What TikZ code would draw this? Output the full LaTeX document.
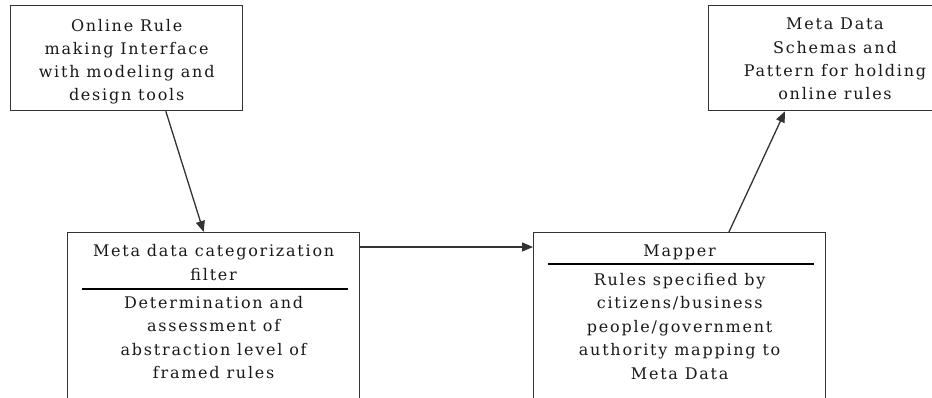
\documentclass[tikz,border=0pt]{standalone}
\usepackage{fontspec}
\setmainfont{DejaVu Serif}[LetterSpace=11]
\usetikzlibrary{calc,arrows.meta}

\tikzset{
  box/.style={draw=black!80, line width=1.3pt, fill=white, anchor=north west, inner sep=0pt},
  txt/.style={anchor=base, inner sep=0pt, font=\fontsize{16}{23}\selectfont, text=black!90},
  divider/.style={draw=black, line width=1.8pt},
  flow/.style={draw=black!80, line width=1.3pt, -{Triangle[length=11pt,width=9pt]}}
}

\begin{document}
\begin{tikzpicture}[x=1pt, y=-1pt]
  \clip (0,0) rectangle (932,398);
  \fill[white] (0,0) rectangle (932,398);

  % boxes (the lower two and the right one run past the page edge)
  \node[box, minimum width=232, minimum height=105] (b1) at (10,5) {};
  \node[box, minimum width=300, minimum height=105] (b2) at (708,5) {};
  \node[box, minimum width=292, minimum height=200] (b3) at (67,232) {};
  \node[box, minimum width=292, minimum height=200] (b4) at (533,232) {};

  % box texts, one baseline per line
  \foreach \t [count=\i] in {Online Rule, making Interface, with modeling and, design tools}
    \node[txt] (t1-\i) at ($(b1.north)+(0,27+22.7*\i-22.7)$) {\t};
  \foreach \t [count=\i] in {Meta Data, Schemas and, Pattern for holding, online rules}
    \node[txt] (t2-\i) at (835,{30+23.3*\i-23.3}) {\t};
  \foreach \t [count=\i] in {Meta data categorization, filter}
    \node[txt] (t3a-\i) at ($(b3.north)+(0,25+23*\i-23)$) {\t};
  \foreach \t [count=\i] in {Determination and, assessment of, abstraction level of, framed rules}
    \node[txt] (t3b-\i) at ($(b3.north)+(0,76+23.5*\i-23.5)$) {\t};
  \node[txt] (t4a) at ($(b4.north)+(0,25)$) {Mapper};
  \foreach \t [count=\i] in {Rules specified by, citizens/business, people/government, authority mapping to, Meta Data}
    \node[txt] (t4b-\i) at ($(b4.north)+(0,53+23.5*\i-23.5)$) {\t};

  % dividers between title and description
  \draw[divider] ($(b3.north west)+(15,57)$) -- ($(b3.north east)+(-12,57)$);
  \draw[divider] ($(b4.north west)+(15,32)$) -- ($(b4.north east)+(-12,32)$);

  % connectors
  \draw[flow] ($(b1.south west)!0.668!(b1.south east)$) -- ($(b3.north west)!0.466!(b3.north east)$);
  \draw[flow] ($(b3.north east)+(0,15)$) -- ($(b4.north west)+(0,15)$);
  \draw[flow] ($(b4.north west)!0.668!(b4.north east)$) -- ($(b2.south west)+(77,0)$);
\end{tikzpicture}
\end{document}
